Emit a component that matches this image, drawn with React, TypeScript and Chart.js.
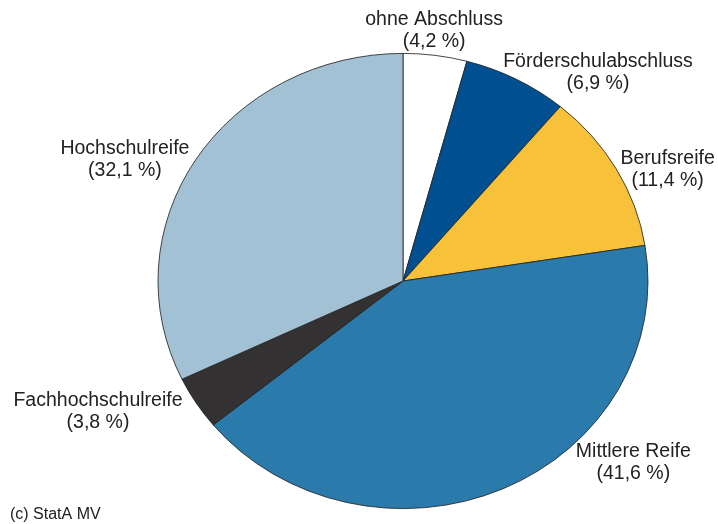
import React, { useEffect, useRef } from "react";
import { Chart, registerables } from "chart.js";

Chart.register(...registerables);

const categories = [
  "ohne Abschluss",
  "Förderschulabschluss",
  "Berufsreife",
  "Mittlere Reife",
  "Fachhochschulreife",
  "Hochschulreife",
];
const shares = [4.2, 6.9, 11.4, 41.6, 3.8, 32.1];
const valueLabels = ["(4,2 %)", "(6,9 %)", "(11,4 %)", "(41,6 %)", "(3,8 %)", "(32,1 %)"];
const sliceColors = ["#ffffff", "#004f91", "#f8c13a", "#2a7aab", "#333132", "#a3c1d5"];
// label block centres relative to pie centre, in units of the (elliptic) radii
const labelPos: [number, number][] = [
  [0.127, -1.1],
  [0.796, -0.915],
  [1.08, -0.49],
  [0.94, 0.8],
  [-1.245, 0.575],
  [-1.135, -0.535],
];
const source = "(c) StatA MV";

const X_STRETCH = 245 / 227.6;

export default function App() {
  const ref = useRef<HTMLCanvasElement | null>(null);
  useEffect(() => {
    if (!ref.current) return;
    const ellipse = {
      id: "ellipse",
      beforeDatasetsDraw(chart: any) {
        const arc = chart.getDatasetMeta(0).data[0];
        const ctx = chart.ctx;
        ctx.save();
        ctx.translate(arc.x, arc.y);
        ctx.scale(X_STRETCH, 1);
        ctx.translate(-arc.x, -arc.y);
      },
      afterDatasetsDraw(chart: any) {
        chart.ctx.restore();
      },
      afterDraw(chart: any) {
        const arc = chart.getDatasetMeta(0).data[0];
        const r = arc.outerRadius;
        const ctx = chart.ctx;
        ctx.save();
        ctx.fillStyle = "#222222";
        ctx.font = "19.5px 'Liberation Sans', Arial, sans-serif";
        ctx.textAlign = "center";
        ctx.textBaseline = "middle";
        categories.forEach((c, i) => {
          const x = arc.x + labelPos[i][0] * r * X_STRETCH;
          const y = arc.y + labelPos[i][1] * r;
          ctx.fillText(c, x, y - 11);
          ctx.fillText(valueLabels[i], x, y + 11);
        });
        ctx.font = "16px 'Liberation Sans', Arial, sans-serif";
        ctx.textAlign = "left";
        ctx.fillText(source, 10, 515);
        ctx.restore();
      },
    };
    const chart = new Chart(ref.current, {
      type: "pie",
      data: {
        labels: categories,
        datasets: [
          {
            data: shares,
            backgroundColor: sliceColors,
            borderColor: "#222222",
            borderWidth: 0.8,
          },
        ],
      },
      options: {
        responsive: false,
        animation: false,
        devicePixelRatio: 1,
        layout: { padding: { left: 175, right: 87, top: 53, bottom: 15 } },
        plugins: { legend: { display: false }, tooltip: { enabled: false } },
      },
      plugins: [ellipse],
    });
    return () => chart.destroy();
  }, []);
  return (
    <div style={{ position: "fixed", left: 0, top: 0, width: 718, height: 524, background: "#fff" }}>
      <canvas ref={ref} width={718} height={524} />
    </div>
  );
}
